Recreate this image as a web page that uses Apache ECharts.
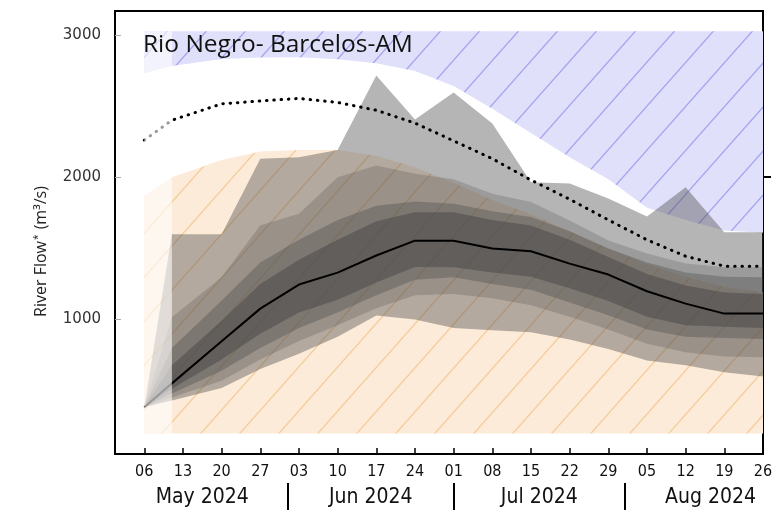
<!DOCTYPE html>
<html><head><meta charset="utf-8">
<script src="https://cdn.jsdelivr.net/npm/echarts@6/dist/echarts.min.js"></script>
<style>html,body{margin:0;padding:0;background:#fff}#c{width:773px;height:515px}</style>
</head><body><div id="c"></div>
<script>
// days counted from Mon 06 May 2024
const days        = [0, 5, 14, 21, 28, 35, 42, 49, 56, 63, 70, 77, 84, 91, 98, 105, 112];
const flowMax     = [385, 1600, 1600, 2130, 2140, 2190, 2714, 2405, 2595, 2377, 1965, 1955, 1850, 1724, 1930, 1614, 1614];
const band2Upper  = [385, 1016, 1297, 1662, 1743, 2000, 2082, 2024, 1985, 1883, 1825, 1696, 1555, 1464, 1393, 1367, 1367];
const band3Upper  = [385, 800, 1134, 1400, 1560, 1700, 1800, 1830, 1814, 1760, 1720, 1620, 1500, 1400, 1330, 1300, 1297];
const band4Upper  = [385, 680, 991, 1250, 1420, 1560, 1690, 1754, 1754, 1700, 1660, 1560, 1440, 1320, 1240, 1190, 1180];
const median      = [385, 552, 848, 1077, 1246, 1330, 1450, 1554, 1554, 1499, 1480, 1393, 1316, 1199, 1112, 1042, 1042];
const band4Lower  = [385, 515, 720, 900, 1050, 1140, 1260, 1370, 1367, 1330, 1300, 1220, 1130, 1020, 960, 950, 940];
const band3Lower  = [385, 480, 640, 800, 940, 1050, 1170, 1280, 1297, 1250, 1210, 1120, 1030, 930, 880, 870, 864];
const band2Lower  = [385, 452, 570, 720, 850, 960, 1080, 1170, 1180, 1150, 1100, 1020, 930, 830, 770, 740, 735];
const flowMin     = [385, 431, 520, 653, 760, 880, 1028, 1000, 940, 925, 911, 860, 794, 712, 680, 630, 600];
const climMean    = [2260, 2400, 2515, 2535, 2553, 2525, 2470, 2380, 2255, 2130, 1980, 1845, 1700, 1560, 1445, 1375, 1375];
const highBottom  = [2730, 2780, 2830, 2840, 2842, 2828, 2800, 2745, 2640, 2480, 2310, 2140, 1985, 1785, 1700, 1625, 1610];
const highTop     = [3025, 3025, 3025, 3025, 3025, 3025, 3025, 3025, 3025, 3025, 3025, 3025, 3025, 3025, 3025, 3025, 3025];
const lowTop      = [1870, 2000, 2120, 2180, 2190, 2190, 2150, 2070, 1960, 1840, 1740, 1620, 1500, 1390, 1300, 1230, 1190];
const lowBottom   = [200, 200, 200, 200, 200, 200, 200, 200, 200, 200, 200, 200, 200, 200, 200, 200, 200];
const washDays    = [0, 5];
const washFlow    = [200, 3025];

const tickDays    = [0, 7, 14, 21, 28, 35, 42, 49, 56, 63, 70, 77, 84, 91, 98, 105, 112];
const tickLabels  = ['06','13','20','27','03','10','17','24','01','08','15','22','29','05','12','19','26'];
const monthBounds = [26, 56, 87];
const monthCenters= [10.5, 41, 71.5, 102.5];
const monthLabels = ['May 2024', 'Jun 2024', 'Jul 2024', 'Aug 2024'];
const yTicks      = [1000, 2000, 3000];
const yTickLabels = ['1000', '2000', '3000'];

function hatch(bg, line, w, h, lw) {
  const c = document.createElement('canvas');
  c.width = w; c.height = h;
  const g = c.getContext('2d');
  g.fillStyle = bg; g.fillRect(0, 0, w, h);
  g.strokeStyle = line; g.lineWidth = lw;
  g.beginPath();
  for (const k of [-1, 0, 1]) {
    g.moveTo(-w + k * w, 2 * h);
    g.lineTo(2 * w + k * w, -h);
  }
  g.stroke();
  return { image: c, repeat: 'repeat' };
}
const orangeFill = hatch('#fdebd9', '#f5cc9c', 39, 44, 1.4);
const blueFill = hatch('#e0e0fb', '#a6a6f0', 39, 44, 1.4);

function band(lower, upper, fill, z) {
  return {
    type: 'custom', z, silent: true, coordinateSystem: 'cartesian2d',
    data: [[days[0], lower[0]]],
    renderItem(params, api) {
      const pts = [];
      for (let i = 0; i < days.length; i++) pts.push(api.coord([days[i], upper[i]]));
      for (let i = days.length - 1; i >= 0; i--) pts.push(api.coord([days[i], lower[i]]));
      return { type: 'polygon', shape: { points: pts }, style: { fill } };
    }
  };
}
function pairs(arr) { return days.map((d, i) => [d, arr[i]]); }

const chart = echarts.init(document.getElementById('c'));
const tickFont = "'DejaVu Sans Condensed', 'DejaVu Sans', sans-serif";
chart.setOption({
  animation: false,
  title: {
    text: 'Rio Negro- Barcelos-AM', left: 143, top: 33, padding: 0, z: 20,
    textStyle: { fontFamily: "'Open Sans', sans-serif", fontSize: 24.5, fontWeight: 'normal', color: '#111' }
  },
  grid: { left: 115, right: 10, top: 11, bottom: 61, show: true, borderColor: '#000', borderWidth: 2, containLabel: false, outerBoundsMode: 'none' },
  xAxis: [{
    type: 'value', min: -5.3, max: 112, position: 'bottom',
    axisLine: { onZero: false, lineStyle: { color: '#000', width: 2 } },
    axisTick: { inside: true, length: 6, customValues: tickDays, lineStyle: { color: '#000', width: 1.5 } },
    axisLabel: { customValues: tickDays, margin: 10, fontFamily: tickFont, fontSize: 16, color: '#111',
      formatter: v => tickLabels[tickDays.indexOf(v)] },
    splitLine: { show: false }
  }, {
    type: 'value', min: -5.3, max: 112, position: 'bottom', offset: 29,
    axisLine: { show: false, onZero: false },
    axisTick: { show: true, inside: false, length: 27, customValues: monthBounds, lineStyle: { color: '#000', width: 2 } },
    axisLabel: { customValues: monthCenters, margin: 4, fontFamily: tickFont, fontSize: 21, color: '#111',
      formatter: v => monthLabels[monthCenters.indexOf(v)] },
    splitLine: { show: false }
  }],
  yAxis: [{
    type: 'value', min: 56, max: 3167, position: 'left',
    axisLine: { show: true, onZero: false, lineStyle: { color: '#000', width: 2 } },
    axisTick: { show: true, inside: true, length: 6, customValues: yTicks, lineStyle: { color: '#aaa', width: 1 } },
    axisLabel: { customValues: yTicks, margin: 14, fontFamily: "'DejaVu Sans', sans-serif", fontSize: 15, color: '#333',
      formatter: v => yTickLabels[yTicks.indexOf(v)] },
    splitLine: { show: false },
    name: '{a|River Flow}{s|*}{a| (m³/s)}', nameLocation: 'middle', nameGap: 66, nameRotate: 90,
    nameTextStyle: {
      padding: [0, 38, 0, 0],
      rich: {
        a: { fontFamily: "'Open Sans', sans-serif", fontSize: 16, color: '#222' },
        s: { fontFamily: "'Open Sans', sans-serif", fontSize: 10, color: '#222', verticalAlign: 'top', padding: [0, 1, 0, 1] }
      }
    }
  }, {
    type: 'value', min: 56, max: 3167, position: 'right',
    axisLine: { show: false, onZero: false },
    axisTick: { show: true, inside: false, length: 8, customValues: [2000], lineStyle: { color: '#000', width: 2 } },
    axisLabel: { show: false },
    splitLine: { show: false }
  }],
  series: [
    band(highBottom, highTop, blueFill, 1),
    band(lowBottom, lowTop, orangeFill, 1),
    band(flowMin, flowMax, 'rgba(70,70,70,0.40)', 2),
    band(band2Lower, band2Upper, 'rgba(70,70,70,0.24)', 3),
    band(band3Lower, band3Upper, 'rgba(70,70,70,0.34)', 4),
    band(band4Lower, band4Upper, 'rgba(70,70,70,0.50)', 5),
    { type: 'line', z: 6, data: pairs(median), symbol: 'none', silent: true,
      lineStyle: { color: '#000', width: 2 } },
    { type: 'line', z: 6, data: pairs(climMean), symbol: 'none', silent: true,
      lineStyle: { color: '#000', width: 3, type: [0.5, 6.8], cap: 'round' } },
    { type: 'custom', z: 7, silent: true, coordinateSystem: 'cartesian2d',
      data: [[washDays[0], washFlow[0], washDays[1], washFlow[1]]],
      renderItem(params, api) {
        const p0 = api.coord([api.value(0), api.value(1)]);
        const p1 = api.coord([api.value(2), api.value(3)]);
        return { type: 'rect', shape: { x: p0[0], y: p1[1], width: p1[0] - p0[0], height: p0[1] - p1[1] },
          style: { fill: 'rgba(255,255,255,0.6)' } };
      }
    }
  ]
});
</script>
</body></html>
